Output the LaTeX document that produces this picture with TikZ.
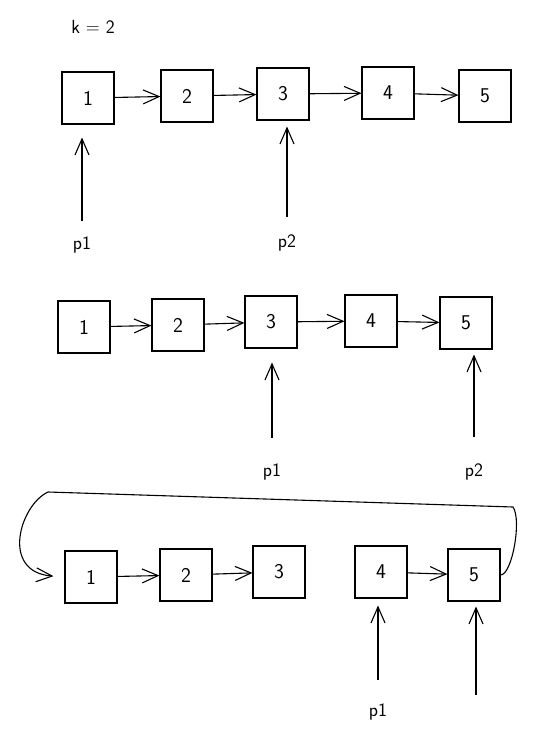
\documentclass[tikz,border=0pt]{standalone}
\usetikzlibrary{arrows.meta}
\begin{document}
\begin{tikzpicture}
  [x=1pt,y=-1pt,line width=1.1pt,
   every node/.style={draw,minimum size=52pt,font=\sffamily\fontsize{21}{21}\selectfont},
   lbl/.style={draw=none,minimum size=0pt,inner sep=1pt,font=\sffamily\fontsize{19}{19}\selectfont},
   >={Straight Barb[length=16pt,width=14pt]}]
\useasboundingbox (0,0) rectangle (542,745);

\node[lbl] (k) at (93,27) {k = 2};

% first row
\node (a1) at (88,98) {1};
\node (a2) at (187,96) {2};
\node (a3) at (283,94) {3};
\node (a4) at (388,93) {4};
\node (a5) at (485,96) {5};
\path (a1) edge [->] (a2);
\path (a2) edge [->] (a3);
\path (a3) edge [->] (a4);
\path (a4) edge [->] (a5);

\node[lbl] (p1a) at (82,245) {p1};
\node[lbl] (p2a) at (287,243) {p2};
\path (p1a) edge [->,shorten <=14pt,shorten >=13pt] (p1a |- a1.south);
\path (p2a) edge [->,shorten <=16pt,shorten >=6pt] (p2a |- a3.south);

% second row
\node (b1) at (84,327) {1};
\node (b2) at (178,325) {2};
\node (b3) at (271,322) {3};
\node (b4) at (371,321) {4};
\node (b5) at (466,323) {5};
\path (b1) edge [->] (b2);
\path (b2) edge [->] (b3);
\path (b3) edge [->] (b4);
\path (b4) edge [->] (b5);

\node[lbl] (p1b) at (272,472) {p1};
\node[lbl] (p2b) at (474,472) {p2};
\path (p1b) edge [->,shorten <=24pt,shorten >=14pt] (p1b |- b3.south);
\path (p2b) edge [->,shorten <=25pt,shorten >=5pt] (p2b |- b5.south);

% third row
\node (c1) at (91,577) {1};
\node (c2) at (186,575) {2};
\node (c3) at (279,572) {3};
\node (c4) at (381,572) {4};
\node (c5) at (474,575) {5};
\path (c1) edge [->] (c2);
\path (c2) edge [->] (c3);
\path (c4) edge [->] (c5);
\draw [->,shorten >=11pt] (c5.east) .. controls (512,575) and (522,520) .. (513,507)
  -- (48,492) .. controls (20,505) and (0,572) .. (c1.west);

\node[lbl] (p1c) at (378,712) {p1};
\path (p1c) edge [->,shorten <=22pt,shorten >=7pt] (p1c |- c4.south);
\coordinate (t2c) at (476,695);
\path (t2c) edge [->,shorten >=5pt] (t2c |- c5.south);
\end{tikzpicture}
\end{document}
